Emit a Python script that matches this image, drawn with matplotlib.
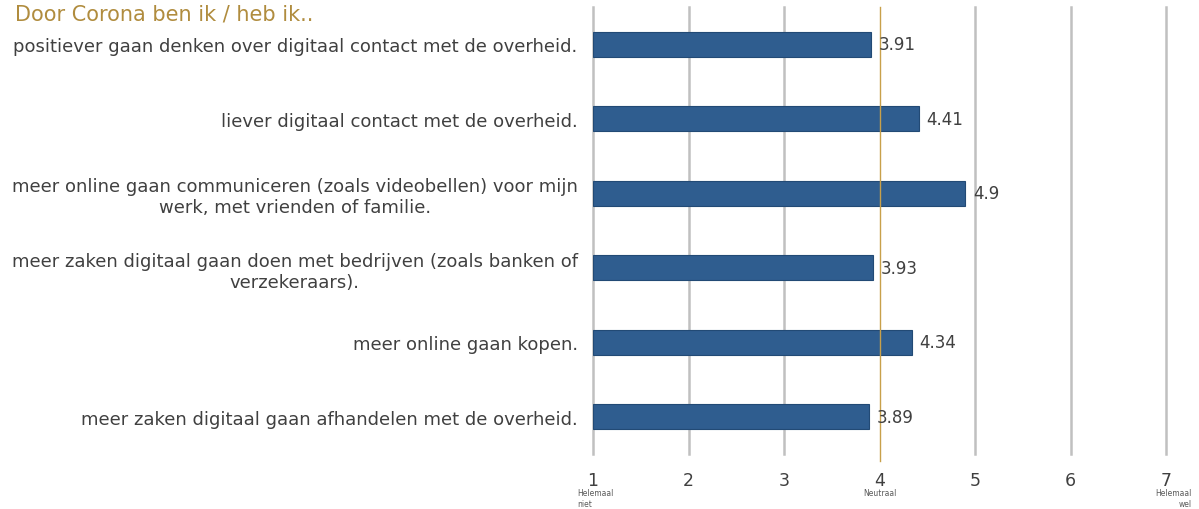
import matplotlib
matplotlib.use("Agg")
import matplotlib.pyplot as plt
import matplotlib.transforms as mtransforms

title = "Door Corona ben ik / heb ik.."
categories = [
    "positiever gaan denken over digitaal contact met de overheid.",
    "liever digitaal contact met de overheid.",
    "meer online gaan communiceren (zoals videobellen) voor mijn\nwerk, met vrienden of familie.",
    "meer zaken digitaal gaan doen met bedrijven (zoals banken of\nverzekeraars).",
    "meer online gaan kopen.",
    "meer zaken digitaal gaan afhandelen met de overheid.",
]
values = [3.91, 4.41, 4.9, 3.93, 4.34, 3.89]
value_labels = ["3.91", "4.41", "4.9", "3.93", "4.34", "3.89"]
ticks = [1, 2, 3, 4, 5, 6, 7]
tick_labels = ["1", "2", "3", "4", "5", "6", "7"]
scale_notes = [(1, "Helemaal\nniet"), (4, "Neutraal"), (7, "Helemaal\nwel")]

W, H = 1199, 510
fig = plt.figure(figsize=(W / 100, H / 100), dpi=100)
ax = fig.add_axes([593 / W, 1 - 455 / H, (1166 - 593) / W, (455 - 8) / H])

text_color = "#404040"
bar_color = "#2f5d8f"
gold = "#c8a04a"

y = list(range(len(categories)))
bar_h = 0.34
ax.barh(y, [v - 1 for v in values], left=1, height=bar_h, color=bar_color,
        edgecolor="#224a75", linewidth=0.8, zorder=3)

ax.set_xlim(1, 7)
ax.set_ylim(len(categories) - 0.5, -0.5)

for t in ticks:
    if t == 4:
        continue
    ax.axvline(t, color="#c0c0c0", linewidth=1.8, zorder=1, clip_on=False)
ax.plot([4, 4], [-0.5, 5.6], color=gold, linewidth=1.0, zorder=4, clip_on=False)

for s in ax.spines.values():
    s.set_visible(False)

ax.set_yticks(y)
ax.set_yticklabels(categories, fontsize=13, color=text_color, multialignment="center")
ax.tick_params(axis="y", length=0, pad=11)

ax.set_xticks(ticks)
ax.set_xticklabels(tick_labels, fontsize=12.5, color=text_color)
ax.tick_params(axis="x", length=0, pad=12)

for yi, v, lab in zip(y, values, value_labels):
    ax.text(v + 0.08, yi, lab, va="center", ha="left", fontsize=12, color=text_color, zorder=5)

trans = mtransforms.blended_transform_factory(ax.transData, fig.transFigure)
for x, note in scale_notes:
    if x == 1:
        ax.text(x - 0.17, 1 - 489 / H, note, transform=trans, ha="left", va="top",
                fontsize=5.5, color="#595959", linespacing=1.25)
    elif x == 7:
        ax.text(x + 0.27, 1 - 489 / H, note, transform=trans, ha="right", va="top",
                fontsize=5.5, color="#595959", linespacing=1.25, multialignment="right")
    else:
        ax.text(x, 1 - 489 / H, note, transform=trans, ha="center", va="top",
                fontsize=5.5, color="#595959")

fig.text(15 / W, 1 - 14 / H, title, ha="left", va="center", fontsize=15, color="#b08c3e")

fig.savefig("out.png", dpi=100)
